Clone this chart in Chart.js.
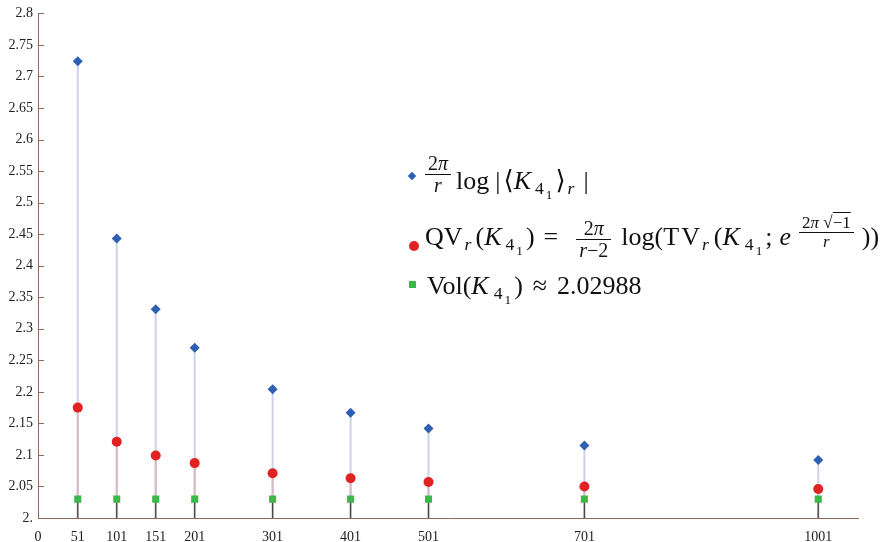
<!DOCTYPE html>
<html>
<head>
<meta charset="utf-8">
<script src="https://cdn.jsdelivr.net/npm/chart.js@4/dist/chart.umd.min.js"></script>
<style>
  html, body { margin: 0; padding: 0; background: #fff; }
  #wrap { position: relative; width: 884px; height: 542px; }
  #legend { position: absolute; left: 0; top: 0; font-family: 'Liberation Serif', 'DejaVu Serif', serif; font-size: 26px; color: #111; }
  .row { position: absolute; white-space: nowrap; line-height: 70px; height: 70px; }
  .mk { display: inline-block; margin-right: 5px; }
  .frac { display: inline-block; text-align: center; font-size: 20px; line-height: 1.0; margin: 0 3px; }
  .frac > span { display: block; padding: 0 3px; }
  .frac > span.num { border-bottom: 1.4px solid #111; padding-bottom: 1px; }
  i { font-style: italic; }
  sub { font-size: 0.68em; vertical-align: -0.3em; line-height: 0; margin-left: 2px; }
  sub sub { font-size: 0.75em; vertical-align: -0.35em; margin-left: 2px; }
  .sup { display: inline-block; vertical-align: -2px; line-height: 1; }
  .sup .frac { font-size: 17px; vertical-align: baseline; }
  .sp { display: inline-block; }
</style>
</head>
<body>
<div id="wrap">
  <canvas id="c" width="884" height="542"></canvas>
  <div id="legend">
    <div class="row" style="left:409px; top:146px;">
      <span class="mk" style="width:6px;height:6px;background:#2f5fb3;transform:rotate(45deg);vertical-align:10px;margin-right:7px;"></span><span class="frac" style="vertical-align:-3px;"><span class="num">2<i>π</i></span><span><i>r</i></span></span><span class="sp" style="width:2px"></span>log<span class="sp" style="width:6px"></span>|<span class="sp" style="width:3px"></span>⟨<i>K</i><span class="sp" style="width:2px"></span><sub>4<sub>1</sub></sub><span class="sp" style="width:3px"></span>⟩<sub><i>r</i></sub><span class="sp" style="width:9px"></span>|
    </div>
    <div class="row" style="left:409px; top:202px;">
      <span class="mk" style="width:10px;height:10px;border-radius:50%;background:#e12222;vertical-align:-6px;margin-right:6px;"></span>QV<sub><i>r</i></sub><span class="sp" style="width:4px"></span>(<i>K</i><span class="sp" style="width:2px"></span><sub>4<sub>1</sub></sub><span class="sp" style="width:3px"></span>)<span class="sp" style="width:9px"></span>=<span class="sp" style="width:11px"></span><span class="frac" style="vertical-align:-12px;padding:0 4px;"><span class="num">2<i>π</i></span><span><i>r</i>−2</span></span><span class="sp" style="width:3px"></span>log(T<span class="sp" style="width:2px"></span>V<sub><i>r</i></sub><span class="sp" style="width:5px"></span>(<i>K</i><span class="sp" style="width:3px"></span><sub>4<sub>1</sub></sub><span class="sp" style="width:3px"></span>;<span class="sp" style="width:7px"></span><i>e</i><span class="sp" style="width:2px"></span><span class="sup"><span class="frac" style="padding:0 3px;"><span class="num">2<i>π</i>&nbsp;√<span style="text-decoration:overline">−1</span></span><span><i>r</i></span></span></span><span class="sp" style="width:2px"></span>))
    </div>
    <div class="row" style="left:409px; top:251px;">
      <span class="mk" style="width:7px;height:7px;background:#3cb84a;vertical-align:6px;margin-right:11px;"></span>Vol(<i>K</i><span class="sp" style="width:3px"></span><sub>4<sub>1</sub></sub><span class="sp" style="width:3px"></span>)<span class="sp" style="width:10px"></span>≈<span class="sp" style="width:10px"></span>2.02988
    </div>
  </div>
</div>
<script>
// ---- data ----
const categories = [51, 101, 151, 201, 301, 401, 501, 701, 1001];
const kashaevValues = [2.724, 2.443, 2.331, 2.270, 2.204, 2.167, 2.142, 2.115, 2.092];
const qvValues = [2.175, 2.121, 2.099, 2.087, 2.071, 2.063, 2.057, 2.050, 2.046];
const volValues = [2.02988, 2.02988, 2.02988, 2.02988, 2.02988, 2.02988, 2.02988, 2.02988, 2.02988];
const xTickLabels = [0, 51, 101, 151, 201, 301, 401, 501, 701, 1001];

const toPoints = (vals) => categories.map((x, i) => ({ x: x, y: vals[i] }));

const stemColors = ['#cdd2ec', '#d9b9c0', '#444444'];
const stemWidths = [2, 2, 1.2];

const stemPlugin = {
  id: 'stems',
  beforeDatasetsDraw(chart) {
    const ctx = chart.ctx;
    const y0 = chart.scales.y.getPixelForValue(2);
    chart.data.datasets.forEach((ds, i) => {
      const meta = chart.getDatasetMeta(i);
      ctx.save();
      ctx.strokeStyle = stemColors[i];
      ctx.lineWidth = stemWidths[i];
      meta.data.forEach(pt => {
        ctx.beginPath();
        ctx.moveTo(pt.x, y0);
        ctx.lineTo(pt.x, pt.y);
        ctx.stroke();
      });
      ctx.restore();
    });
  },
  afterDraw(chart) {
    const ctx = chart.ctx;
    const ys = chart.scales.y;
    const x0 = chart.chartArea.left;
    ctx.save();
    ctx.strokeStyle = '#8b6b5e';
    ctx.lineWidth = 1;
    ys.ticks.forEach(t => {
      const y = Math.round(ys.getPixelForValue(t.value)) + 0.5;
      ctx.beginPath();
      ctx.moveTo(x0, y);
      ctx.lineTo(x0 + 6, y);
      ctx.stroke();
    });
    ctx.restore();
  }
};

const font = { family: "'Liberation Serif', 'DejaVu Serif', serif", size: 14 };

new Chart(document.getElementById('c'), {
  type: 'scatter',
  data: {
    datasets: [
      { label: 'kashaev', data: toPoints(kashaevValues), pointStyle: 'rectRot', pointRadius: 5, backgroundColor: '#2f5fb3', borderColor: '#2f5fb3', borderWidth: 0 },
      { label: 'qv', data: toPoints(qvValues), pointStyle: 'circle', pointRadius: 5, backgroundColor: '#e12222', borderColor: '#e12222', borderWidth: 0 },
      { label: 'vol', data: toPoints(volValues), pointStyle: 'rect', pointRadius: 5, backgroundColor: '#3cb84a', borderColor: '#3cb84a', borderWidth: 0 }
    ]
  },
  options: {
    responsive: false,
    animation: false,
    events: [],
    layout: { padding: { top: 11, right: 26, left: 0, bottom: 0 } },
    plugins: { legend: { display: false }, tooltip: { enabled: false } },
    scales: {
      x: {
        type: 'linear',
        min: 0,
        max: 1052,
        afterBuildTicks(scale) { scale.ticks = xTickLabels.map(v => ({ value: v })); },
        afterFit(scale) { scale.height = 24; },
        grid: { display: false },
        border: { display: true, color: '#8b6b5e', width: 1 },
        ticks: { autoSkip: false, maxRotation: 0, color: '#222', font: font, padding: 3, callback: v => String(v) }
      },
      y: {
        min: 2,
        max: 2.8,
        afterFit(scale) { scale.width = 38; },
        grid: { display: false, drawTicks: false },
        border: { display: true, color: '#8b6b5e', width: 1 },
        ticks: {
          stepSize: 0.05, color: '#222', font: font, padding: 5,
          callback: v => (Math.abs(v - 2) < 1e-9 ? '2.' : String(+v.toFixed(2)))
        }
      }
    }
  },
  plugins: [stemPlugin]
});
</script>
</body>
</html>
